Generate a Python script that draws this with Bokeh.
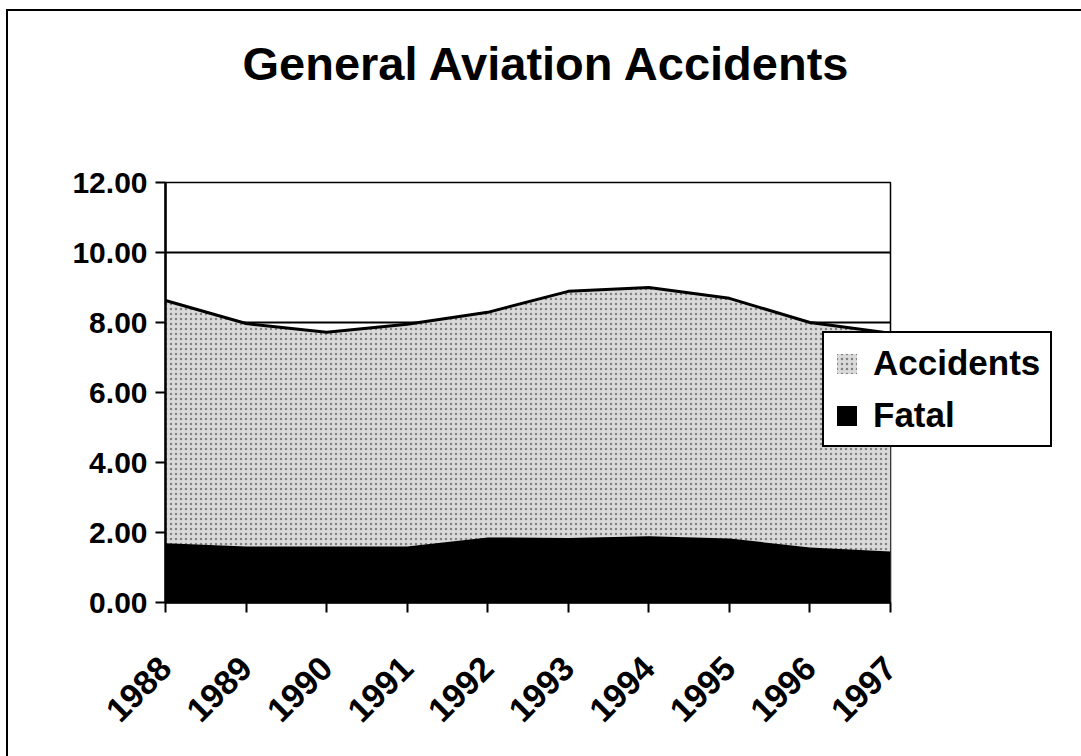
from math import pi
from bokeh.plotting import figure
from bokeh.models import FixedTicker, Legend, LegendItem, NumeralTickFormatter, Range1d, Title
from bokeh.embed import file_html
from bokeh.resources import INLINE

years = [1988, 1989, 1990, 1991, 1992, 1993, 1994, 1995, 1996, 1997]
year_labels = ["1988", "1989", "1990", "1991", "1992", "1993", "1994", "1995", "1996", "1997"]
accidents = [8.63, 7.97, 7.72, 7.95, 8.29, 8.89, 9.00, 8.69, 8.00, 7.69]
fatal = [1.69, 1.60, 1.60, 1.60, 1.86, 1.84, 1.89, 1.83, 1.57, 1.46]
y_ticks = [0, 2, 4, 6, 8, 10, 12]

FONT = "Liberation Sans"

p = figure(
    title=None,
    frame_width=725, frame_height=420,
    min_border_left=157, min_border_right=191,
    min_border_top=171, min_border_bottom=154,
    x_range=Range1d(years[0], years[-1]), y_range=Range1d(0, 12),
    output_backend="svg", toolbar_location=None,
    background_fill_color="white", border_fill_color="white",
    styles={"border-left": "2px solid black", "border-top": "2px solid black",
            "margin-left": "6px", "margin-top": "9px"},
)

# spacer between title and plot frame (nearest to frame)
p.add_layout(Title(text=" ", text_font_size="10px", standoff=80), "above")
p.add_layout(Title(text="General Aviation Accidents", text_font=FONT,
                   text_font_style="bold", text_font_size="47px",
                   text_color="black", align="left", offset=77, standoff=0), "above")

acc = p.varea(x=years, y1=0, y2=accidents, fill_color="#dadada",
              hatch_pattern="dot", hatch_color="#444444", hatch_scale=5, hatch_alpha=0.6)
p.line(x=years, y=accidents, line_color="black", line_width=3)
fat = p.varea(x=years, y1=0, y2=fatal, fill_color="black")

# axes
p.xaxis.ticker = FixedTicker(ticks=years)
p.xaxis.major_label_overrides = {y: s for y, s in zip(years, year_labels)}
p.xaxis.major_label_orientation = pi / 4
p.xaxis.major_label_standoff = 50
p.yaxis.ticker = FixedTicker(ticks=y_ticks)
p.yaxis.formatter = NumeralTickFormatter(format="0.00")
p.yaxis.major_label_standoff = 8
for ax in (p.xaxis, p.yaxis):
    ax.axis_line_color = "black"
    ax.axis_line_width = 2.5
    ax.major_tick_line_color = "black"
    ax.major_tick_line_width = 2
    ax.major_tick_out = 10
    ax.major_tick_in = 0
    ax.minor_tick_line_color = None
    ax.major_label_text_font = FONT
    ax.major_label_text_font_style = "bold"
    ax.major_label_text_color = "black"
p.yaxis.major_label_text_font_size = "30px"
p.xaxis.major_label_text_font_size = "34px"

p.xgrid.grid_line_color = None
p.ygrid.ticker = FixedTicker(ticks=y_ticks)
p.ygrid.grid_line_color = "black"
p.ygrid.grid_line_width = 2
p.ygrid.level = "underlay"
p.outline_line_color = "black"
p.outline_line_width = 1.5

legend = Legend(
    items=[LegendItem(label="Accidents", renderers=[acc]),
           LegendItem(label="Fatal", renderers=[fat])],
    location=(-68, 155),
    label_text_font=FONT, label_text_font_style="bold", label_text_font_size="35px",
    label_text_color="black",
    glyph_width=25, glyph_height=25, label_standoff=14, spacing=12,
    padding=10, margin=0,
    border_line_color="black", border_line_width=2, border_line_alpha=1,
    background_fill_color="white", background_fill_alpha=1,
)
p.add_layout(legend, "right")

open("out.html", "w").write(file_html(p, INLINE))
